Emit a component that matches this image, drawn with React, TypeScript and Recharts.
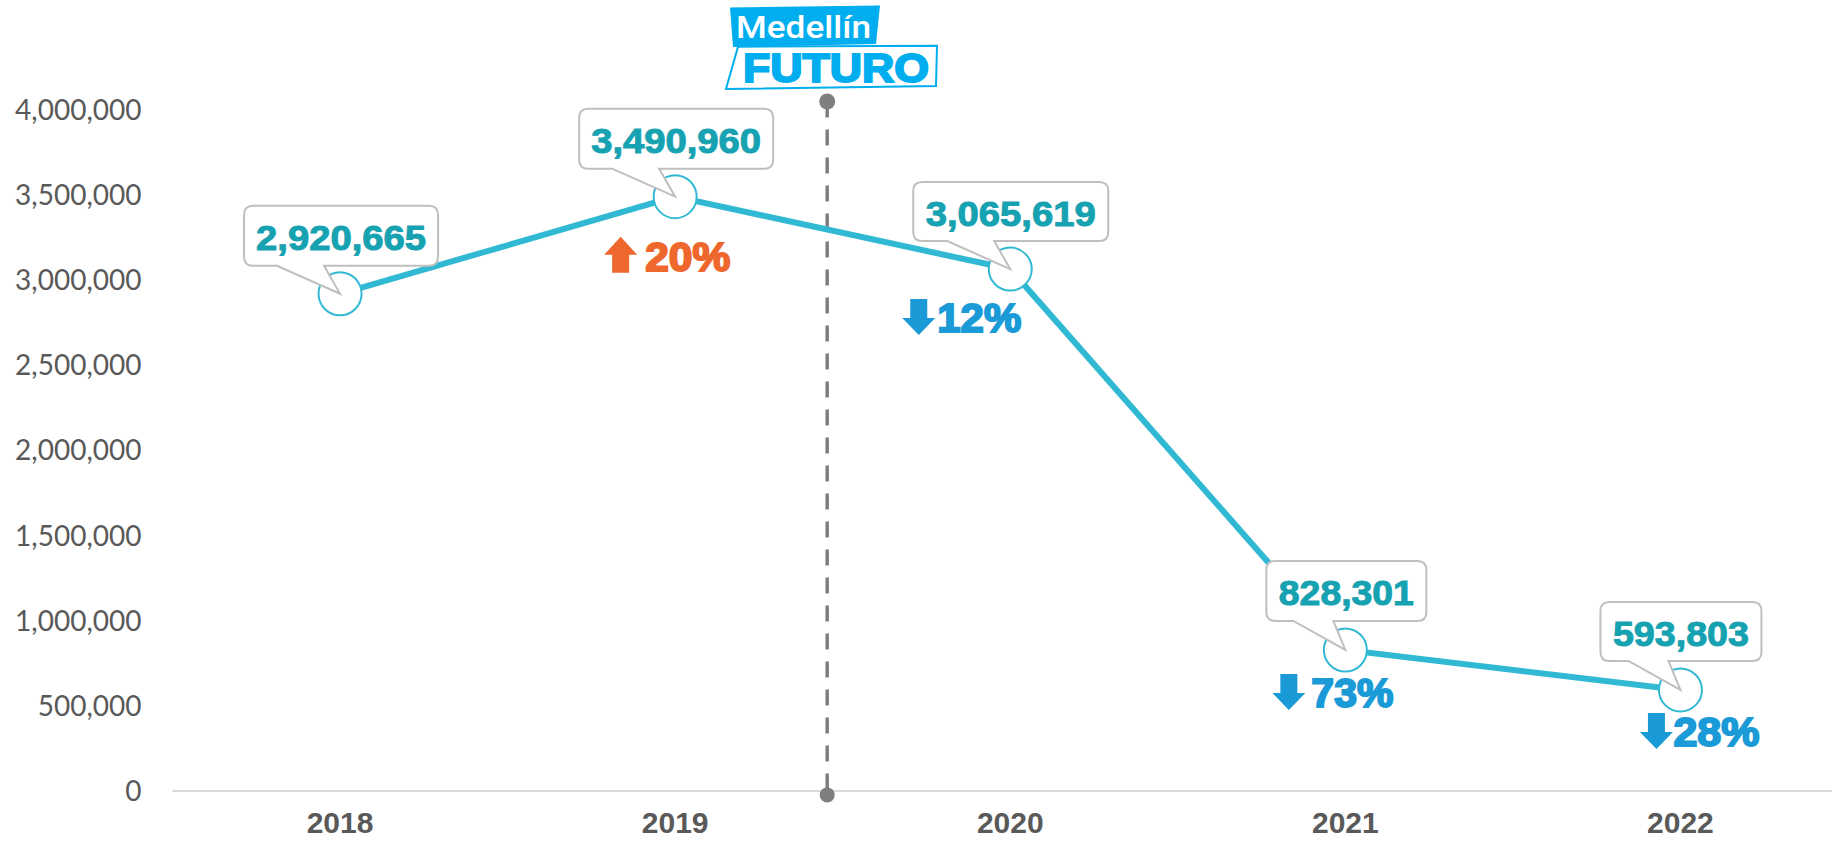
import { LineChart, Line, XAxis, YAxis, ReferenceLine, ReferenceDot, LabelList } from "recharts";

const years = ["2018", "2019", "2020", "2021", "2022"];
const visitors = [2920665, 3490960, 3065619, 828301, 593803];
const changes = ["", "20%", "12%", "73%", "28%"];
const yTicks = [0, 500000, 1000000, 1500000, 2000000, 2500000, 3000000, 3500000, 4000000];

const data = years.map((year, i) => ({ year, visitors: visitors[i] }));

// where the dashed marker sits on the hidden numeric axis
const MARKER_X = 1.563;
const MARKER_TOP = 4050000;
const MARKER_BOTTOM = -23000;

// callout box and tail offsets from each point
const boxes = [
  { l: -96, r: 98, t: -88, b: -28, tailL: -63, tailR: -16, textW: 170 },
  { l: -96, r: 98, t: -88, b: -28, tailL: -63, tailR: -16, textW: 170 },
  { l: -97, r: 98, t: -87, b: -28, tailL: -63, tailR: -16, textW: 170 },
  { l: -79, r: 81, t: -89, b: -29, tailL: -52, tailR: -12, textW: 135 },
  { l: -80, r: 81, t: -88, b: -29, tailL: -52, tailR: -12, textW: 136 },
];

// arrow and percent text offsets from each point
const deltas = [
  null,
  { ax: -71, ay: 40, tx: -30, ty: 74, tw: 85, up: true },
  { ax: -108, ay: 30, tx: -73, ty: 63, tw: 84, up: false },
  { ax: -73, ay: 24, tx: -34, ty: 57, tw: 82, up: false },
  { ax: -40.5, ay: 23, tx: -7, ty: 56, tw: 86, up: false },
];

const LINE = "#31B9D4";
const TEAL = "#17A2B2";
const GREY = "#595959";
const ORANGE = "#EE672C";
const BLUE = "#1A9BD7";
const LOGO = "#00AEEF";
const ARIAL = "'Liberation Sans', Arial, sans-serif";

function Callout(props: any) {
  const { x, y, value, index } = props;
  const b = boxes[index];
  const d = deltas[index];
  const r = 9;
  const path = [
    `M ${x + b.l + r} ${y + b.t}`,
    `H ${x + b.r - r}`,
    `Q ${x + b.r} ${y + b.t} ${x + b.r} ${y + b.t + r}`,
    `V ${y + b.b - r}`,
    `Q ${x + b.r} ${y + b.b} ${x + b.r - r} ${y + b.b}`,
    `H ${x + b.tailR}`,
    `L ${x} ${y}`,
    `L ${x + b.tailL} ${y + b.b}`,
    `H ${x + b.l + r}`,
    `Q ${x + b.l} ${y + b.b} ${x + b.l} ${y + b.b - r}`,
    `V ${y + b.t + r}`,
    `Q ${x + b.l} ${y + b.t} ${x + b.l + r} ${y + b.t}`,
    "Z",
  ].join(" ");
  const color = d && d.up ? ORANGE : BLUE;
  return (
    <g>
      <path d={path} fill="#fff" stroke="#BFBFBF" strokeWidth={2} />
      <text
        x={x + (b.l + b.r) / 2}
        y={y + b.t + 44}
        textAnchor="middle"
        textLength={b.textW}
        lengthAdjust="spacingAndGlyphs"
        fontFamily={ARIAL}
        fontWeight={700}
        fontSize={35}
        fill={TEAL}
        stroke={TEAL}
        strokeWidth={1}
      >
        {Number(value).toLocaleString("en-US")}
      </text>
      {d && (
        <g>
          <path
            transform={`translate(${x + d.ax} ${y + d.ay})`}
            d={
              d.up
                ? "M16.5 0 L33 18 H25 V36 H8 V18 H0 Z"
                : "M8 0 H25 V19 H33 L16.5 36 L0 19 H8 Z"
            }
            fill={color}
          />
          <text
            x={x + d.tx}
            y={y + d.ty}
            textLength={d.tw}
            lengthAdjust="spacingAndGlyphs"
            fontFamily={ARIAL}
            fontWeight={700}
            fontSize={41}
            fill={color}
            stroke={color}
            strokeWidth={2}
          >
            {changes[index]}
          </text>
        </g>
      )}
    </g>
  );
}

function Logo() {
  return (
    <g>
      <polygon points="730,7.5 880,5.5 876,44 733,47" fill={LOGO} />
      <text x={736} y={37.5} textLength={135} lengthAdjust="spacingAndGlyphs" fontFamily="Roboto, sans-serif" fontWeight={500} fontSize={32} fill="#fff">
        Medellín
      </text>
      <polygon points="738,46.7 937,45.7 936,86 726,89" fill="#fff" stroke={LOGO} strokeWidth={2} />
      <text x={743} y={81.5} textLength={186} lengthAdjust="spacingAndGlyphs" fontFamily={ARIAL} fontWeight={700} fontSize={40} fill={LOGO} stroke={LOGO} strokeWidth={2}>
        FUTURO
      </text>
    </g>
  );
}

export default function App() {
  return (
    <div style={{ position: "absolute", left: 0, top: 0, width: 1832, height: 842, overflow: "hidden", background: "#fff" }}>
      <LineChart width={1848} height={842} data={data} margin={{ top: 110, right: 0, bottom: 0, left: 0 }}>
        <XAxis
          dataKey="year"
          scale="band"
          height={51}
          axisLine={{ stroke: "#D9D9D9", strokeWidth: 2 }}
          tickLine={false}
          tickSize={0}
          tickMargin={21}
          interval={0}
          tick={{ fill: GREY, fontFamily: ARIAL, fontWeight: 700, fontSize: 30 }}
        />
        <XAxis xAxisId="marker" type="number" scale="linear" domain={[0, 5]} allowDataOverflow hide />
        <YAxis
          width={172.5}
          domain={[0, 4000000]}
          ticks={yTicks}
          axisLine={false}
          tickLine={false}
          tickSize={0}
          tickMargin={31}
          tickFormatter={(v: number) => v.toLocaleString("en-US")}
          tick={{ fill: GREY, fontFamily: "Lato, sans-serif", fontSize: 28 }}
        />
        <ReferenceLine
          xAxisId="marker"
          segment={[
            { x: MARKER_X, y: MARKER_TOP },
            { x: MARKER_X, y: MARKER_BOTTOM },
          ]}
          ifOverflow="visible"
          stroke="#7F7F7F"
          strokeWidth={3.5}
          strokeDasharray="16 12"
        />
        <ReferenceDot xAxisId="marker" x={MARKER_X} y={MARKER_TOP} r={8} fill="#7F7F7F" stroke="none" ifOverflow="visible" />
        <ReferenceDot xAxisId="marker" x={MARKER_X} y={MARKER_BOTTOM} r={7.5} fill="#7F7F7F" stroke="none" ifOverflow="visible" />
        <Line
          dataKey="visitors"
          stroke={LINE}
          strokeWidth={6}
          isAnimationActive={false}
          dot={{ r: 21.5, fill: "#fff", stroke: LINE, strokeWidth: 2 }}
        >
          <LabelList dataKey="visitors" content={<Callout />} />
        </Line>
        <Logo />
      </LineChart>
    </div>
  );
}
